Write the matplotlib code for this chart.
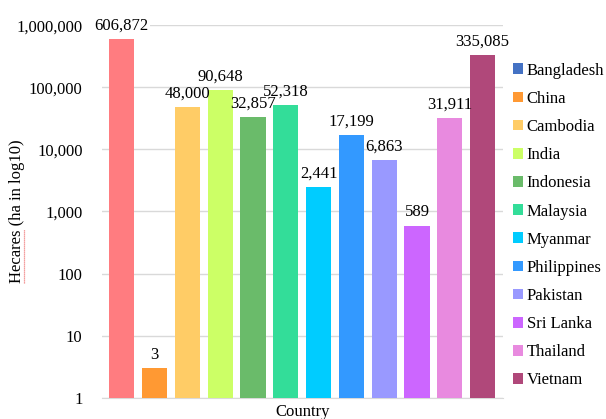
import matplotlib
matplotlib.use("Agg")
import matplotlib.pyplot as plt
from matplotlib.patches import Patch
from matplotlib.lines import Line2D

countries = ["Bangladesh", "China", "Cambodia", "India", "Indonesia", "Malaysia",
             "Myanmar", "Philippines", "Pakistan", "Sri Lanka", "Thailand", "Vietnam"]
values = [606872, 3, 48000, 90648, 32857, 52318, 2441, 17199, 6863, 589, 31911, 335085]
bar_colors = ["#FF7C80", "#FF9933", "#FFCC66", "#CCFF66", "#6ABB6A", "#33DD99",
              "#00CCFF", "#3399FF", "#9999FF", "#CC66FF", "#E88ADF", "#B0487A"]
legend_colors = ["#4472C4", "#FF9933", "#FFCC66", "#CCFF66", "#6ABB6A", "#33DD99",
                 "#00CCFF", "#3399FF", "#9999FF", "#CC66FF", "#E88ADF", "#B0487A"]
yticks = [1, 10, 100, 1000, 10000, 100000, 1000000]

plt.rcParams['font.family'] = ['Liberation Serif', 'DejaVu Serif']

fig = plt.figure(figsize=(6.06, 4.19), dpi=100)
W, H = 606, 419
ax = fig.add_axes([102 / W, 1 - 397.5 / H, (503 - 102) / W, (397.5 - 25.5) / H])

x = list(range(len(countries)))
ax.bar(x, values, width=0.77, color=bar_colors, zorder=3, bottom=0)
ax.set_yscale('log')
ax.set_ylim(1, 1000000)
ax.set_xlim(-0.6, 11.62)
ax.set_yticks(yticks)
ax.set_yticklabels([f"{v:,}" for v in yticks], fontsize=12)
ax.minorticks_off()
ax.set_xticks([])
ax.grid(axis='y', color='#d9d9d9', linewidth=1, zorder=0)
for s in ['top', 'right', 'left']:
    ax.spines[s].set_visible(False)
ax.spines['bottom'].set_color('#d9d9d9')
ax.tick_params(axis='y', length=0, pad=14)

for i, v in enumerate(values):
    kw = {}
    if i == 0:
        kw['bbox'] = dict(facecolor='white', edgecolor='none', pad=1)
    ax.text(i, v * 1.22, f"{v:,}", ha='center', va='bottom', fontsize=12,
            clip_on=False, zorder=4, **kw)

ax.set_xlabel("Country", fontsize=12, labelpad=5)
fig.text(17 / W, 1 - 211 / H, "Hecares (ha in log10)", rotation=90,
         ha='center', va='center', fontsize=12)
fig.add_artist(Line2D([24.5 / W, 24.5 / W], [1 - 283 / H, 1 - 229 / H],
                      color='#F08080', linewidth=0.9, linestyle=(0, (1, 0.6))))

handles = [Patch(facecolor=c, edgecolor='none') for c in legend_colors]
fig.legend(handles, countries, loc='upper left', bbox_to_anchor=(506 / W, 1 - 56 / H),
           frameon=False, fontsize=12, handlelength=0.6, handleheight=0.6,
           handletextpad=0.25, labelspacing=0.73, borderaxespad=0)

fig.savefig("out.png", dpi=100)
